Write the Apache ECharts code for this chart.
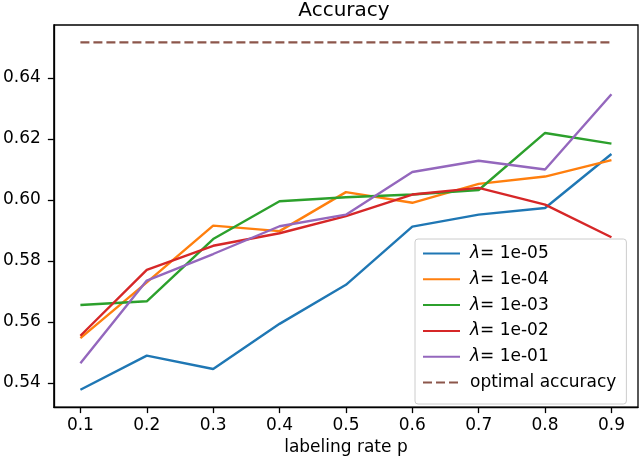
<!DOCTYPE html>
<html>
<head>
<meta charset="utf-8">
<script src="https://cdn.jsdelivr.net/npm/echarts@6/dist/echarts.min.js"></script>
<style>
  html, body { margin: 0; padding: 0; background: #fff; }
  #main { width: 640px; height: 461px; }
</style>
</head>
<body>
<div id="main"></div>
<script>
// labeling rates (x)
const rates = [0.1, 0.2, 0.3, 0.4, 0.5, 0.6, 0.7, 0.8, 0.9];

// accuracy per lambda
const lam1e05 = [0.5378, 0.5490, 0.5446, 0.5594, 0.5722, 0.5913, 0.5952, 0.5974, 0.6151];
const lam1e04 = [0.5547, 0.5730, 0.5916, 0.5898, 0.6026, 0.5991, 0.6053, 0.6077, 0.6131];
const lam1e03 = [0.5656, 0.5668, 0.5872, 0.5996, 0.6009, 0.6018, 0.6033, 0.6220, 0.6185];
const lam1e02 = [0.5555, 0.5771, 0.5850, 0.5891, 0.5947, 0.6018, 0.6040, 0.5985, 0.5878];
const lam1e01 = [0.5465, 0.5736, 0.5823, 0.5914, 0.5952, 0.6092, 0.6129, 0.6100, 0.6347];
const optimal = [0.6517, 0.6517, 0.6517, 0.6517, 0.6517, 0.6517, 0.6517, 0.6517, 0.6517];

// tick labels
const xTicks = [0.1, 0.2, 0.3, 0.4, 0.5, 0.6, 0.7, 0.8, 0.9];
const yTicks = [0.54, 0.56, 0.58, 0.60, 0.62, 0.64];

const seriesDefs = [
  { name: 'λ= 1e-05', data: lam1e05, color: '#1f77b4' },
  { name: 'λ= 1e-04', data: lam1e04, color: '#ff7f0e' },
  { name: 'λ= 1e-03', data: lam1e03, color: '#2ca02c' },
  { name: 'λ= 1e-02', data: lam1e02, color: '#d62728' },
  { name: 'λ= 1e-01', data: lam1e01, color: '#9467bd' },
  { name: 'optimal accuracy', data: optimal, color: '#8c564b', dashed: true }
];

const font = 'DejaVu Sans';

function pairs(ys) {
  return rates.map((x, i) => [x, ys[i]]);
}

const chart = echarts.init(document.getElementById('main'));

const option = {
  animation: false,
  backgroundColor: '#fff',
  title: {
    text: 'Accuracy',
    left: 344,
    textAlign: 'center',
    top: 1,
    padding: 0,
    textStyle: { fontFamily: font, fontSize: 20, fontWeight: 'normal', color: '#000' }
  },
  grid: {
    left: 51, right: 2, top: 25, bottom: 53,
    show: true,
    borderColor: '#000',
    borderWidth: 1.3,
    backgroundColor: 'transparent'
  },
  legend: {
    orient: 'vertical',
    left: 415,
    top: 239,
    padding: [6, 10, 13, 7],
    itemWidth: 37,
    itemHeight: 14,
    itemGap: 8.8,
    backgroundColor: 'rgba(255,255,255,0.8)',
    borderColor: '#cccccc',
    borderWidth: 1,
    borderRadius: 3,
    // hide the symbol echarts puts on line legend icons
    itemStyle: { color: 'transparent', borderColor: 'transparent', borderWidth: 0 },
    formatter: function (name) {
      if (name.indexOf('λ') === 0) return '{i|λ}' + name.slice(1);
      return name;
    },
    textStyle: {
      fontFamily: font, fontSize: 17, color: '#000', lineHeight: 16,
      padding: [0, 0, 0, 5],
      rich: {
        i: { fontFamily: font, fontSize: 17, fontStyle: 'italic', color: '#000', lineHeight: 16 }
      }
    },
    data: seriesDefs.map(s => s.name)
  },
  xAxis: {
    type: 'value',
    min: 0.06,
    max: 0.94,
    name: 'labeling rate p',
    nameLocation: 'middle',
    nameGap: 31,
    nameTextStyle: { fontFamily: font, fontSize: 17, color: '#000' },
    axisLine: { show: true, lineStyle: { color: '#000', width: 1.3 } },
    axisTick: { show: true, length: 6, customValues: xTicks, lineStyle: { color: '#000', width: 1.3 } },
    axisLabel: {
      customValues: xTicks,
      margin: 10,
      fontFamily: font, fontSize: 17, color: '#000',
      formatter: v => v.toFixed(1)
    },
    splitLine: { show: false }
  },
  yAxis: {
    type: 'value',
    min: 0.5321,
    max: 0.6574,
    axisLine: { show: true, lineStyle: { color: '#000', width: 1.3 } },
    axisTick: { show: true, length: 6, customValues: yTicks, lineStyle: { color: '#000', width: 1.3 } },
    axisLabel: {
      customValues: yTicks,
      margin: 13,
      fontFamily: font, fontSize: 17, color: '#000',
      formatter: v => v.toFixed(2)
    },
    splitLine: { show: false }
  },
  series: seriesDefs.map(s => ({
    name: s.name,
    type: 'line',
    data: pairs(s.data),
    showSymbol: false,
    symbol: 'none',
    color: s.color,
    lineStyle: { color: s.color, width: 2.4, type: s.dashed ? [9, 4] : 'solid' },
    emphasis: { disabled: true }
  }))
};

chart.setOption(option);
</script>
</body>
</html>
